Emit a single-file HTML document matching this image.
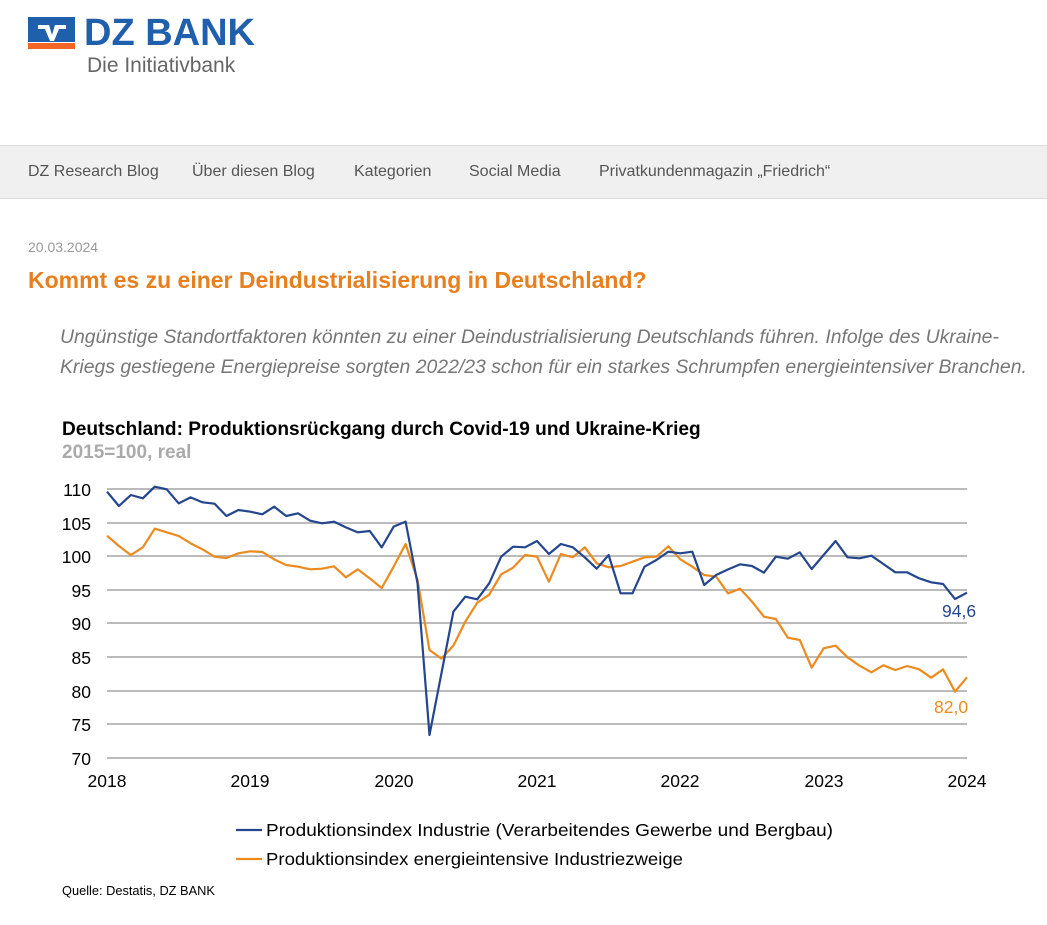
<!DOCTYPE html>
<html><head><meta charset="utf-8"><style>
body{margin:0;width:1047px;height:925px;background:#fff;font-family:"Liberation Sans",sans-serif;position:relative;overflow:hidden}
.a{position:absolute;white-space:nowrap}
</style></head><body>
<svg class="a" style="left:28px;top:17px" width="48" height="32">
<rect x="0" y="0" width="47" height="25" fill="#1f5fab"/><rect x="0" y="26" width="47" height="6" fill="#f26522"/>
<path d="M10 8 L21 8 L24 18 L27 8 L38 8 L38 12 L31 12 L26 24 L22 24 L17 12 L10 12Z" fill="#fff"/>
</svg>
<div class="a" style="left:84px;top:12px;font-size:38px;font-weight:bold;color:#1f5fab;letter-spacing:0px">DZ BANK</div>
<div class="a" style="left:87px;top:54px;font-size:21px;color:#666">Die Initiativbank</div>
<div class="a" style="left:0;top:145px;width:1047px;height:52px;background:#f0f0f0;border-top:1px solid #ddd;border-bottom:1px solid #ddd"></div>
<div class="a" style="top:163px;font-size:16px;color:#555;left:28px">DZ Research Blog</div>
<div class="a" style="top:163px;font-size:16px;color:#555;left:192px">Über diesen Blog</div>
<div class="a" style="top:163px;font-size:16px;color:#555;left:354px">Kategorien</div>
<div class="a" style="top:163px;font-size:16px;color:#555;left:469px">Social Media</div>
<div class="a" style="top:163px;font-size:16px;color:#555;left:599px">Privatkundenmagazin „Friedrich“</div>
<div class="a" style="left:28px;top:239px;font-size:14px;color:#999">20.03.2024</div>
<div class="a" style="left:28px;top:267px;font-size:23px;font-weight:bold;color:#e87f1e">Kommt es zu einer Deindustrialisierung in Deutschland?</div>
<div class="a" style="left:60px;top:322px;font-size:19.4px;font-style:italic;color:#777;line-height:30px">Ungünstige Standortfaktoren könnten zu einer Deindustrialisierung Deutschlands führen. Infolge des Ukraine-<br>Kriegs gestiegene Energiepreise sorgten 2022/23 schon für ein starkes Schrumpfen energieintensiver Branchen.</div>
<div class="a" style="left:62px;top:419px;font-size:19.1px;font-weight:bold;color:#000">Deutschland: Produktionsrückgang durch Covid-19 und Ukraine-Krieg</div>
<div class="a" style="left:62px;top:442px;font-size:19px;font-weight:bold;color:#aaa">2015=100, real</div>
<svg class="a" style="left:0;top:0" width="1047" height="925" font-family="Liberation Sans, sans-serif">
<g stroke="#bbb" stroke-width="2">
<line x1="107" x2="967" y1="489" y2="489"/><line x1="107" x2="967" y1="523" y2="523"/><line x1="107" x2="967" y1="556" y2="556"/><line x1="107" x2="967" y1="590" y2="590"/><line x1="107" x2="967" y1="623" y2="623"/><line x1="107" x2="967" y1="657" y2="657"/><line x1="107" x2="967" y1="691" y2="691"/><line x1="107" x2="967" y1="724" y2="724"/><line x1="107" x2="967" y1="758" y2="758"/>
</g>
<g font-size="17.5" fill="#000" text-anchor="end">
<text x="91" y="496">110</text><text x="91" y="530">105</text><text x="91" y="563">100</text><text x="91" y="597">95</text><text x="91" y="630">90</text><text x="91" y="664">85</text><text x="91" y="698">80</text><text x="91" y="731">75</text><text x="91" y="765">70</text>
</g>
<g font-size="17.5" fill="#000" text-anchor="middle">
<text x="107" y="787">2018</text><text x="250" y="787">2019</text><text x="394" y="787">2020</text><text x="537" y="787">2021</text><text x="680" y="787">2022</text><text x="824" y="787">2023</text><text x="967" y="787">2024</text>
</g>
<g transform="translate(107,470) scale(11.944,0.33333)" fill="none" stroke-width="2.2" stroke-linejoin="round">
<polyline vector-effect="non-scaling-stroke" stroke="#ec8a1e" points="0,197 1,228 2,255 3,232 4,176 5,187 6,198 7,220 8,238 9,260 10,264 11,250 12,244 13,246 14,268 15,285 16,290 17,298 18,296 19,289 20,322 21,298 22,325 23,354 24,290 25,222 26,330 27,540 28,566 29,527 30,455 31,398 32,374 33,313 34,293 35,255 36,260 37,335 38,252 39,262 40,232 41,280 42,292 43,288 44,275 45,262 46,260 47,229 48,268 49,290 50,315 51,320 52,370 53,356 54,395 55,440 56,447 57,503 58,510 59,593 60,535 61,527 62,562 63,587 64,607 65,586 66,600 67,588 68,598 69,623 70,598 71,665 72,622"/>
<polyline vector-effect="non-scaling-stroke" stroke="#24468e" points="0,65 1,108 2,75 3,85 4,50 5,58 6,100 7,82 8,97 9,101 10,138 11,120 12,125 13,133 14,110 15,138 16,130 17,152 18,160 19,155 20,172 21,187 22,183 23,232 24,170 25,155 26,340 27,795 28,610 29,425 30,380 31,388 32,340 33,260 34,230 35,232 36,213 37,252 38,222 39,232 40,262 41,296 42,255 43,370 44,370 45,290 46,270 47,245 48,250 49,245 50,345 51,315 52,298 53,283 54,288 55,308 56,260 57,266 58,247 59,297 60,255 61,213 62,262 63,265 64,257 65,282 66,307 67,307 68,325 69,337 70,342 71,387 72,368"/>
</g>
<text x="942" y="617" font-size="17.5" fill="#24468e">94,6</text>
<text x="934" y="713" font-size="17.5" fill="#ec8a1e">82,0</text>
<line x1="236" x2="262" y1="830" y2="830" stroke="#24468e" stroke-width="2.2"/>
<line x1="236" x2="262" y1="859" y2="859" stroke="#ec8a1e" stroke-width="2.2"/>
<text x="266" y="836" font-size="17.6" fill="#000" textLength="567" lengthAdjust="spacingAndGlyphs">Produktionsindex Industrie (Verarbeitendes Gewerbe und Bergbau)</text>
<text x="266" y="865" font-size="17.6" fill="#000" textLength="417" lengthAdjust="spacingAndGlyphs">Produktionsindex energieintensive Industriezweige</text>
<text x="62" y="895" font-size="12.8" fill="#000">Quelle: Destatis, DZ BANK</text>
</svg>
</body></html>
